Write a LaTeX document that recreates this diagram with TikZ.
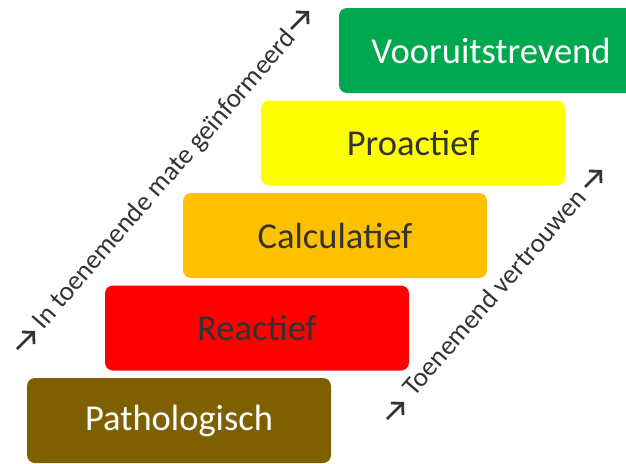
\documentclass[tikz,border=0pt]{standalone}
\usepackage{fontspec}
\setmainfont{Carlito}
\usetikzlibrary{calc,arrows.meta}
\definecolor{groen}{RGB}{0,168,80}
\definecolor{geel}{RGB}{255,255,0}
\definecolor{oranje}{RGB}{255,192,0}
\definecolor{rood}{RGB}{255,0,0}
\definecolor{bruin}{RGB}{127,96,0}
\definecolor{donker}{RGB}{51,51,51}
\tikzset{
	trede/.style={rounded corners=8pt, minimum width=304pt, minimum height=85pt, inner sep=0pt, font=\fontsize{36.5}{40}\selectfont, text=donker},
	schuin/.style={rotate=49, inner sep=0pt, font=\fontsize{27}{30}\selectfont, text=donker},
	pijl/.style={-{Straight Barb[length=8pt,width=17pt]}, line width=2.8pt, draw=donker}
}
\begin{document}
\begin{tikzpicture}[x=1pt,y=-1pt]
		\clip (0,0) rectangle (626,463);
		\path 
		(179,420.5) coordinate (A)
		(A) ++ (78,-92.5) coordinate (B)
		(B) ++ (78,-92.5) coordinate (C)
		(C) ++ (78,-92.5) coordinate (D)
		(D) ++ (78,-92.5) coordinate (E)
		(17,349) coordinate (p1) ++ (18,-18) coordinate (p2)
		(291,29) coordinate (p3) ++ (18,-18) coordinate (p4)
		(387,419) coordinate (p5) ++ (17,-17) coordinate (p6)
		(585,187) coordinate (p7) ++ (17,-17) coordinate (p8)
		;
		\node[trede, fill=bruin, text=white] (patho) at (A) {Pathologisch};
		\node[trede, fill=rood] (reac) at (B) {Reactief};
		\node[trede, fill=oranje] (calc) at (C) {Calculatief};
		\node[trede, fill=geel] (proa) at (D) {Proactief};
		\node[trede, fill=groen, text=white] (voor) at (E) {Vooruitstrevend};
		
		\node[schuin] (info) at (165,180) {In toenemende mate geïnformeerd};
		\node[schuin] (vertr) at (494,292) {Toenemend vertrouwen};
		
		\draw[pijl] (p1) -- (p2);
		\draw[pijl] (p3) -- (p4);
		\draw[pijl] (p5) -- (p6);
		\draw[pijl] (p7) -- (p8);
	\end{tikzpicture}
\end{document}
